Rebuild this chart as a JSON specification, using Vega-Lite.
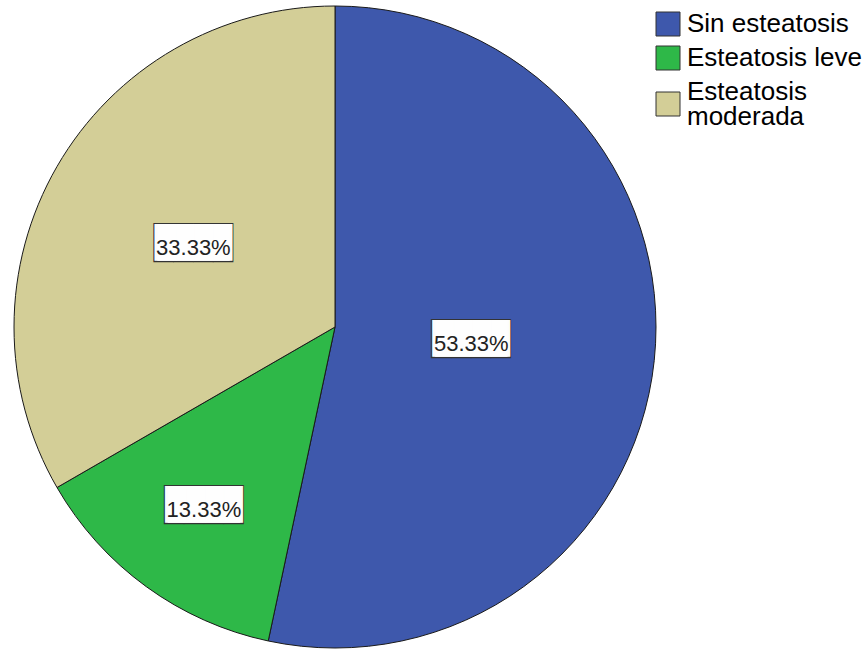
{
  "$schema": "https://vega.github.io/schema/vega-lite/v6.json",
  "width": 670,
  "height": 654,
  "autosize": {"type": "none"},
  "padding": {"left": 0, "top": 0, "right": 198, "bottom": 0},
  "background": "white",
  "config": {"view": {"stroke": null}},
  "data": {
    "values": [
      {"cat": "Sin esteatosis", "pct": 53.33, "orden": 1, "etiqueta": "53.33%"},
      {"cat": "Esteatosis leve", "pct": 13.33, "orden": 2, "etiqueta": "13.33%"},
      {"cat": "Esteatosis moderada", "pct": 33.33, "orden": 3, "etiqueta": "33.33%"}
    ]
  },
  "encoding": {
    "theta": {"field": "pct", "type": "quantitative", "stack": true},
    "order": {"field": "orden", "type": "quantitative"}
  },
  "layer": [
    {
      "mark": {"type": "arc", "outerRadius": 321, "stroke": "#1a1a1a", "strokeWidth": 1},
      "encoding": {
        "color": {
          "field": "cat",
          "type": "nominal",
          "sort": null,
          "scale": {
            "domain": ["Sin esteatosis", "Esteatosis leve", "Esteatosis moderada"],
            "range": ["#3E58AC", "#2EB848", "#D3CE97"]
          },
          "legend": {
            "title": null,
            "orient": "none",
            "legendX": 655,
            "legendY": 11,
            "padding": 0,
            "symbolType": "square",
            "symbolSize": 576,
            "symbolStrokeColor": "#333333",
            "symbolStrokeWidth": 1,
            "labelFont": "Liberation Sans",
            "labelFontSize": 26,
            "labelColor": "#000000",
            "labelOffset": 6,
            "labelLimit": 400,
            "rowPadding": 6,
            "labelExpr": "datum.label == 'Esteatosis moderada' ? ['Esteatosis', 'moderada'] : datum.label",
            "encode": {
              "labels": {
                "update": {
                  "lineHeight": {"value": 25},
                  "dy": {"signal": "datum.value == 'Esteatosis moderada' ? -12.5 : 0"}
                }
              }
            }
          }
        }
      }
    },
    {
      "mark": {"type": "text", "text": "████", "font": "DejaVu Sans Mono", "fontSize": 33, "color": "#333333", "opacity": 0.99, "dy": -1.5},
      "encoding": {
        "radius": {"field": "pct", "type": "quantitative", "scale": {"type": "pow", "exponent": -0.2, "zero": false, "domain": [13.33, 53.33], "range": [223, 137]}}
      }
    },
    {
      "mark": {"type": "text", "text": "████", "font": "DejaVu Sans Mono", "fontSize": 31, "color": "#ffffff", "opacity": 0.99, "dx": -1.4, "dy": -1.5},
      "encoding": {
        "radius": {"field": "pct", "type": "quantitative", "scale": {"type": "pow", "exponent": -0.2, "zero": false, "domain": [13.33, 53.33], "range": [223, 137]}}
      }
    },
    {
      "mark": {"type": "text", "text": "████", "font": "DejaVu Sans Mono", "fontSize": 31, "color": "#ffffff", "opacity": 0.99, "dx": 1.4, "dy": -1.5},
      "encoding": {
        "radius": {"field": "pct", "type": "quantitative", "scale": {"type": "pow", "exponent": -0.2, "zero": false, "domain": [13.33, 53.33], "range": [223, 137]}}
      }
    },
    {
      "mark": {"type": "text", "font": "Liberation Sans", "fontSize": 22, "color": "#222222", "dy": 3},
      "encoding": {
        "radius": {"field": "pct", "type": "quantitative", "scale": {"type": "pow", "exponent": -0.2, "zero": false, "domain": [13.33, 53.33], "range": [223, 137]}},
        "text": {"field": "etiqueta", "type": "nominal"}
      }
    }
  ]
}
